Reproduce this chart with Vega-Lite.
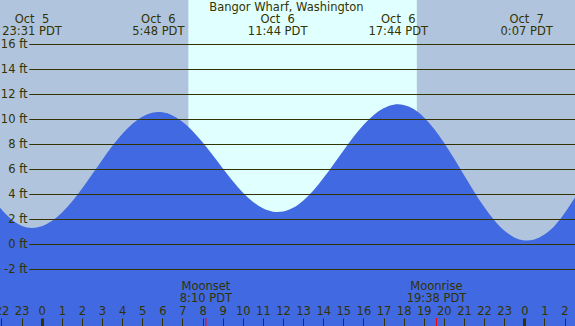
{
  "$schema": "https://vega.github.io/schema/vega-lite/v6.json",
  "width": 575,
  "height": 326,
  "padding": 0,
  "autosize": {"type": "none"},
  "background": "#B0C4DE",
  "config": {
    "view": {"stroke": null, "fill": "#B0C4DE"},
    "font": "DejaVu Sans",
    "text": {"font": "DejaVu Sans", "fontSize": 11.5, "color": "#333300", "baseline": "middle", "align": "center"}
  },
  "datasets": {
    "tide": [
      {"t": -2.1, "ft": 2.98}, {"t": -1.5, "ft": 2.01}, {"t": -1.0, "ft": 1.51}, {"t": -0.483, "ft": 1.33},
      {"t": 0, "ft": 1.46}, {"t": 0.5, "ft": 1.88}, {"t": 1, "ft": 2.55}, {"t": 1.5, "ft": 3.43},
      {"t": 2, "ft": 4.47}, {"t": 2.5, "ft": 5.60}, {"t": 3, "ft": 6.75}, {"t": 3.5, "ft": 7.86},
      {"t": 4, "ft": 8.85}, {"t": 4.5, "ft": 9.65}, {"t": 5, "ft": 10.23}, {"t": 5.5, "ft": 10.55},
      {"t": 5.8, "ft": 10.6}, {"t": 6, "ft": 10.58}, {"t": 6.5, "ft": 10.33}, {"t": 7, "ft": 9.82},
      {"t": 7.5, "ft": 9.09}, {"t": 8, "ft": 8.18}, {"t": 8.5, "ft": 7.16}, {"t": 9, "ft": 6.11},
      {"t": 9.5, "ft": 5.08}, {"t": 10, "ft": 4.17}, {"t": 10.5, "ft": 3.43}, {"t": 11, "ft": 2.90},
      {"t": 11.5, "ft": 2.63}, {"t": 11.733, "ft": 2.6}, {"t": 12, "ft": 2.64}, {"t": 12.5, "ft": 2.94},
      {"t": 13, "ft": 3.51}, {"t": 13.5, "ft": 4.31}, {"t": 14, "ft": 5.30}, {"t": 14.5, "ft": 6.39},
      {"t": 15, "ft": 7.51}, {"t": 15.5, "ft": 8.60}, {"t": 16, "ft": 9.57}, {"t": 16.5, "ft": 10.35},
      {"t": 17, "ft": 10.90}, {"t": 17.5, "ft": 11.19}, {"t": 17.733, "ft": 11.22}, {"t": 18, "ft": 11.17},
      {"t": 18.5, "ft": 10.84}, {"t": 19, "ft": 10.19}, {"t": 19.5, "ft": 9.29}, {"t": 20, "ft": 8.17},
      {"t": 20.5, "ft": 6.90}, {"t": 21, "ft": 5.57}, {"t": 21.5, "ft": 4.25}, {"t": 22, "ft": 3.02},
      {"t": 22.5, "ft": 1.96}, {"t": 23, "ft": 1.12}, {"t": 23.5, "ft": 0.57}, {"t": 24, "ft": 0.33},
      {"t": 24.117, "ft": 0.32}, {"t": 24.5, "ft": 0.41}, {"t": 25, "ft": 0.81}, {"t": 25.5, "ft": 1.49},
      {"t": 26, "ft": 2.50}, {"t": 26.6, "ft": 3.95}
    ],
    "daylight": [{"t": 7.293, "t2": 18.656}],
    "levels": [{"ft": -2}, {"ft": 0}, {"ft": 2}, {"ft": 4}, {"ft": 6}, {"ft": 8}, {"ft": 10}, {"ft": 12}, {"ft": 14}, {"ft": 16}],
    "extremes": [
      {"t": -0.483, "day": "Oct\u00a0\u00a05", "time": "23:31 PDT"},
      {"t": 5.8, "day": "Oct\u00a0\u00a06", "time": "5:48 PDT"},
      {"t": 11.733, "day": "Oct\u00a0\u00a06", "time": "11:44 PDT"},
      {"t": 17.733, "day": "Oct\u00a0\u00a06", "time": "17:44 PDT"},
      {"t": 24.117, "day": "Oct\u00a0\u00a07", "time": "0:07 PDT"}
    ],
    "moon": [
      {"t": 8.167, "event": "Moonset", "time": "8:10 PDT"},
      {"t": 19.633, "event": "Moonrise", "time": "19:38 PDT"}
    ],
    "title": [{"label": "Bangor Wharf, Washington"}]
  },
  "layer": [
    {
      "data": {"name": "daylight"},
      "mark": {"type": "rect", "color": "#E0FFFF"},
      "encoding": {
        "x": {"field": "t", "type": "quantitative", "scale": {"domain": [-2.074, 26.522], "nice": false, "zero": false},
          "axis": {"orient": "bottom", "offset": -8, "title": null, "zindex": 1, "values": [-2, -1, 0, 1, 2, 3, 4, 5, 6, 7, 8, 9, 10, 11, 12, 13, 14, 15, 16, 17, 18, 19, 20, 21, 22, 23, 24, 25, 26], "labelExpr": "((datum.value % 24) + 24) % 24", "domain": false, "grid": false, "tickSize": 8, "tickColor": "#333300", "tickWidth": {"condition": {"test": "datum.value % 24 === 0", "value": 3}, "value": 1}, "labelPadding": -14.3, "labelBaseline": "middle", "labelFont": "DejaVu Sans", "labelFontSize": 11.5, "labelColor": "#333300", "labelFlush": false, "labelOverlap": false, "labelBound": false}},
        "x2": {"field": "t2"},
        "y": {"datum": -6.52, "type": "quantitative", "scale": {"domain": [-6.52, 19.56], "nice": false, "zero": false},
          "axis": {"orient": "left", "offset": -29, "title": null, "zindex": 1, "values": [-2, 0, 2, 4, 6, 8, 10, 12, 14, 16], "labelExpr": "datum.value + ' ft'", "domain": false, "grid": false, "ticks": false, "labelPadding": 2, "labelFont": "DejaVu Sans", "labelFontSize": 11.5, "labelColor": "#333300", "labelOverlap": false, "labelBound": false}},
        "y2": {"datum": 19.56}
      }
    },
    {
      "data": {"name": "tide"},
      "mark": {"type": "area", "color": "#4169E1", "interpolate": "monotone", "clip": true},
      "encoding": {
        "x": {"field": "t", "type": "quantitative",
          "axis": {"orient": "bottom", "offset": -8, "title": null, "zindex": 1, "values": [-2, -1, 0, 1, 2, 3, 4, 5, 6, 7, 8, 9, 10, 11, 12, 13, 14, 15, 16, 17, 18, 19, 20, 21, 22, 23, 24, 25, 26], "labelExpr": "((datum.value % 24) + 24) % 24", "domain": false, "grid": false, "tickSize": 8, "tickColor": "#333300", "tickWidth": {"condition": {"test": "datum.value % 24 === 0", "value": 3}, "value": 1}, "labelPadding": -14.3, "labelBaseline": "middle", "labelFont": "DejaVu Sans", "labelFontSize": 11.5, "labelColor": "#333300", "labelFlush": false, "labelOverlap": false, "labelBound": false}},
        "y": {"field": "ft", "type": "quantitative",
          "axis": {"orient": "left", "offset": -29, "title": null, "zindex": 1, "values": [-2, 0, 2, 4, 6, 8, 10, 12, 14, 16], "labelExpr": "datum.value + ' ft'", "domain": false, "grid": false, "ticks": false, "labelPadding": 2, "labelFont": "DejaVu Sans", "labelFontSize": 11.5, "labelColor": "#333300", "labelOverlap": false, "labelBound": false}},
        "y2": {"datum": -6.52}
      }
    },
    {
      "data": {"name": "levels"},
      "mark": {"type": "rule", "color": "#333300", "strokeWidth": 1},
      "encoding": {
        "x": {"datum": -0.617, "type": "quantitative",
          "axis": {"orient": "bottom", "offset": -8, "title": null, "zindex": 1, "values": [-2, -1, 0, 1, 2, 3, 4, 5, 6, 7, 8, 9, 10, 11, 12, 13, 14, 15, 16, 17, 18, 19, 20, 21, 22, 23, 24, 25, 26], "labelExpr": "((datum.value % 24) + 24) % 24", "domain": false, "grid": false, "tickSize": 8, "tickColor": "#333300", "tickWidth": {"condition": {"test": "datum.value % 24 === 0", "value": 3}, "value": 1}, "labelPadding": -14.3, "labelBaseline": "middle", "labelFont": "DejaVu Sans", "labelFontSize": 11.5, "labelColor": "#333300", "labelFlush": false, "labelOverlap": false, "labelBound": false}},
        "x2": {"datum": 26.522},
        "y": {"field": "ft", "type": "quantitative",
          "axis": {"orient": "left", "offset": -29, "title": null, "zindex": 1, "values": [-2, 0, 2, 4, 6, 8, 10, 12, 14, 16], "labelExpr": "datum.value + ' ft'", "domain": false, "grid": false, "ticks": false, "labelPadding": 2, "labelFont": "DejaVu Sans", "labelFontSize": 11.5, "labelColor": "#333300", "labelOverlap": false, "labelBound": false}}
      }
    },
    {
      "data": {"name": "moon"},
      "mark": {"type": "rule", "color": "#FF0000", "strokeWidth": 1},
      "encoding": {
        "x": {"field": "t", "type": "quantitative",
          "axis": {"orient": "bottom", "offset": -8, "title": null, "zindex": 1, "values": [-2, -1, 0, 1, 2, 3, 4, 5, 6, 7, 8, 9, 10, 11, 12, 13, 14, 15, 16, 17, 18, 19, 20, 21, 22, 23, 24, 25, 26], "labelExpr": "((datum.value % 24) + 24) % 24", "domain": false, "grid": false, "tickSize": 8, "tickColor": "#333300", "tickWidth": {"condition": {"test": "datum.value % 24 === 0", "value": 3}, "value": 1}, "labelPadding": -14.3, "labelBaseline": "middle", "labelFont": "DejaVu Sans", "labelFontSize": 11.5, "labelColor": "#333300", "labelFlush": false, "labelOverlap": false, "labelBound": false}},
        "y": {"datum": -5.88, "type": "quantitative",
          "axis": {"orient": "left", "offset": -29, "title": null, "zindex": 1, "values": [-2, 0, 2, 4, 6, 8, 10, 12, 14, 16], "labelExpr": "datum.value + ' ft'", "domain": false, "grid": false, "ticks": false, "labelPadding": 2, "labelFont": "DejaVu Sans", "labelFontSize": 11.5, "labelColor": "#333300", "labelOverlap": false, "labelBound": false}},
        "y2": {"datum": -6.52}
      }
    },
    {
      "data": {"name": "extremes"},
      "mark": {"type": "text"},
      "encoding": {
        "x": {"field": "t", "type": "quantitative",
          "axis": {"orient": "bottom", "offset": -8, "title": null, "zindex": 1, "values": [-2, -1, 0, 1, 2, 3, 4, 5, 6, 7, 8, 9, 10, 11, 12, 13, 14, 15, 16, 17, 18, 19, 20, 21, 22, 23, 24, 25, 26], "labelExpr": "((datum.value % 24) + 24) % 24", "domain": false, "grid": false, "tickSize": 8, "tickColor": "#333300", "tickWidth": {"condition": {"test": "datum.value % 24 === 0", "value": 3}, "value": 1}, "labelPadding": -14.3, "labelBaseline": "middle", "labelFont": "DejaVu Sans", "labelFontSize": 11.5, "labelColor": "#333300", "labelFlush": false, "labelOverlap": false, "labelBound": false}},
        "y": {"datum": 18.0, "type": "quantitative",
          "axis": {"orient": "left", "offset": -29, "title": null, "zindex": 1, "values": [-2, 0, 2, 4, 6, 8, 10, 12, 14, 16], "labelExpr": "datum.value + ' ft'", "domain": false, "grid": false, "ticks": false, "labelPadding": 2, "labelFont": "DejaVu Sans", "labelFontSize": 11.5, "labelColor": "#333300", "labelOverlap": false, "labelBound": false}},
        "text": {"field": "day"}
      }
    },
    {
      "data": {"name": "extremes"},
      "mark": {"type": "text"},
      "encoding": {
        "x": {"field": "t", "type": "quantitative",
          "axis": {"orient": "bottom", "offset": -8, "title": null, "zindex": 1, "values": [-2, -1, 0, 1, 2, 3, 4, 5, 6, 7, 8, 9, 10, 11, 12, 13, 14, 15, 16, 17, 18, 19, 20, 21, 22, 23, 24, 25, 26], "labelExpr": "((datum.value % 24) + 24) % 24", "domain": false, "grid": false, "tickSize": 8, "tickColor": "#333300", "tickWidth": {"condition": {"test": "datum.value % 24 === 0", "value": 3}, "value": 1}, "labelPadding": -14.3, "labelBaseline": "middle", "labelFont": "DejaVu Sans", "labelFontSize": 11.5, "labelColor": "#333300", "labelFlush": false, "labelOverlap": false, "labelBound": false}},
        "y": {"datum": 17.04, "type": "quantitative",
          "axis": {"orient": "left", "offset": -29, "title": null, "zindex": 1, "values": [-2, 0, 2, 4, 6, 8, 10, 12, 14, 16], "labelExpr": "datum.value + ' ft'", "domain": false, "grid": false, "ticks": false, "labelPadding": 2, "labelFont": "DejaVu Sans", "labelFontSize": 11.5, "labelColor": "#333300", "labelOverlap": false, "labelBound": false}},
        "text": {"field": "time"}
      }
    },
    {
      "data": {"name": "moon"},
      "mark": {"type": "text"},
      "encoding": {
        "x": {"field": "t", "type": "quantitative",
          "axis": {"orient": "bottom", "offset": -8, "title": null, "zindex": 1, "values": [-2, -1, 0, 1, 2, 3, 4, 5, 6, 7, 8, 9, 10, 11, 12, 13, 14, 15, 16, 17, 18, 19, 20, 21, 22, 23, 24, 25, 26], "labelExpr": "((datum.value % 24) + 24) % 24", "domain": false, "grid": false, "tickSize": 8, "tickColor": "#333300", "tickWidth": {"condition": {"test": "datum.value % 24 === 0", "value": 3}, "value": 1}, "labelPadding": -14.3, "labelBaseline": "middle", "labelFont": "DejaVu Sans", "labelFontSize": 11.5, "labelColor": "#333300", "labelFlush": false, "labelOverlap": false, "labelBound": false}},
        "y": {"datum": -3.42, "type": "quantitative",
          "axis": {"orient": "left", "offset": -29, "title": null, "zindex": 1, "values": [-2, 0, 2, 4, 6, 8, 10, 12, 14, 16], "labelExpr": "datum.value + ' ft'", "domain": false, "grid": false, "ticks": false, "labelPadding": 2, "labelFont": "DejaVu Sans", "labelFontSize": 11.5, "labelColor": "#333300", "labelOverlap": false, "labelBound": false}},
        "text": {"field": "event"}
      }
    },
    {
      "data": {"name": "moon"},
      "mark": {"type": "text"},
      "encoding": {
        "x": {"field": "t", "type": "quantitative",
          "axis": {"orient": "bottom", "offset": -8, "title": null, "zindex": 1, "values": [-2, -1, 0, 1, 2, 3, 4, 5, 6, 7, 8, 9, 10, 11, 12, 13, 14, 15, 16, 17, 18, 19, 20, 21, 22, 23, 24, 25, 26], "labelExpr": "((datum.value % 24) + 24) % 24", "domain": false, "grid": false, "tickSize": 8, "tickColor": "#333300", "tickWidth": {"condition": {"test": "datum.value % 24 === 0", "value": 3}, "value": 1}, "labelPadding": -14.3, "labelBaseline": "middle", "labelFont": "DejaVu Sans", "labelFontSize": 11.5, "labelColor": "#333300", "labelFlush": false, "labelOverlap": false, "labelBound": false}},
        "y": {"datum": -4.38, "type": "quantitative",
          "axis": {"orient": "left", "offset": -29, "title": null, "zindex": 1, "values": [-2, 0, 2, 4, 6, 8, 10, 12, 14, 16], "labelExpr": "datum.value + ' ft'", "domain": false, "grid": false, "ticks": false, "labelPadding": 2, "labelFont": "DejaVu Sans", "labelFontSize": 11.5, "labelColor": "#333300", "labelOverlap": false, "labelBound": false}},
        "text": {"field": "time"}
      }
    },
    {
      "data": {"name": "title"},
      "mark": {"type": "text"},
      "encoding": {
        "x": {"datum": 12.17, "type": "quantitative",
          "axis": {"orient": "bottom", "offset": -8, "title": null, "zindex": 1, "values": [-2, -1, 0, 1, 2, 3, 4, 5, 6, 7, 8, 9, 10, 11, 12, 13, 14, 15, 16, 17, 18, 19, 20, 21, 22, 23, 24, 25, 26], "labelExpr": "((datum.value % 24) + 24) % 24", "domain": false, "grid": false, "tickSize": 8, "tickColor": "#333300", "tickWidth": {"condition": {"test": "datum.value % 24 === 0", "value": 3}, "value": 1}, "labelPadding": -14.3, "labelBaseline": "middle", "labelFont": "DejaVu Sans", "labelFontSize": 11.5, "labelColor": "#333300", "labelFlush": false, "labelOverlap": false, "labelBound": false}},
        "y": {"datum": 18.96, "type": "quantitative",
          "axis": {"orient": "left", "offset": -29, "title": null, "zindex": 1, "values": [-2, 0, 2, 4, 6, 8, 10, 12, 14, 16], "labelExpr": "datum.value + ' ft'", "domain": false, "grid": false, "ticks": false, "labelPadding": 2, "labelFont": "DejaVu Sans", "labelFontSize": 11.5, "labelColor": "#333300", "labelOverlap": false, "labelBound": false}},
        "text": {"field": "label"}
      }
    }
  ]
}
